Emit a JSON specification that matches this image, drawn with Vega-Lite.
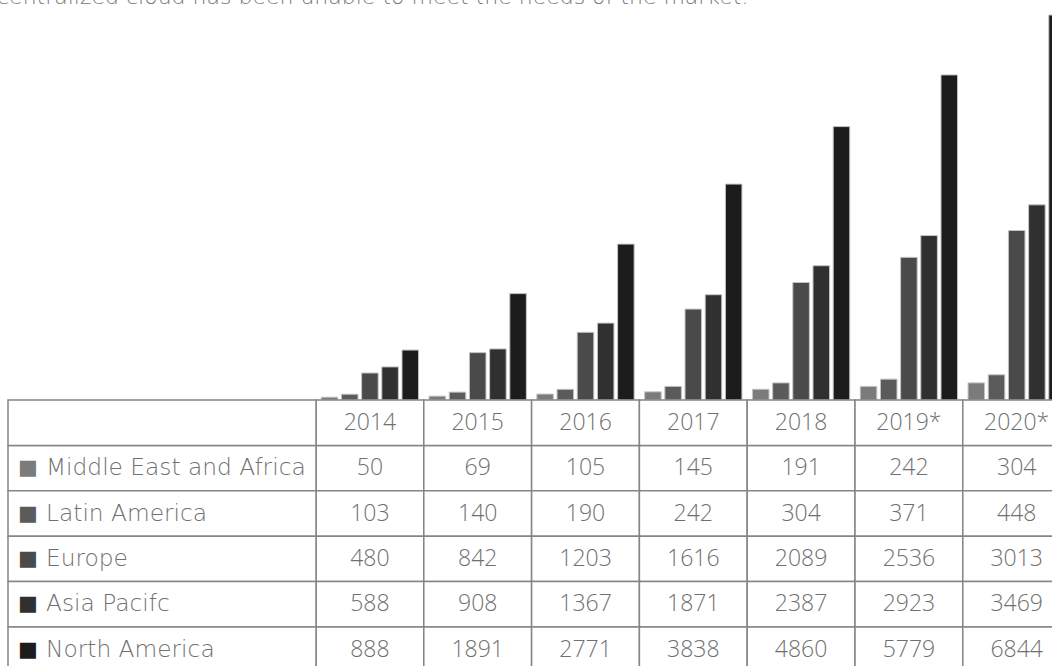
{
  "$schema": "https://vega.github.io/schema/vega-lite/v6.json",
  "autosize": {"type": "none"},
  "width": 1063,
  "height": 673,
  "padding": {"left": 8, "top": 0, "right": 0, "bottom": 0},
  "background": "white",
  "config": {"view": {"stroke": null}},
  "title": {
    "text": "centralized cloud has been unable to meet the needs of the market.",
    "anchor": "start",
    "frame": "group",
    "orient": "top",
    "offset": -26,
    "dx": -11,
    "baseline": "alphabetic",
    "font": "DejaVu Sans",
    "fontWeight": 200,
    "fontSize": 22,
    "color": "#777777"
  },
  "datasets": {
    "v": [
      {"region": "Middle East and Africa", "year": "2014", "value": 50},
      {"region": "Middle East and Africa", "year": "2015", "value": 69},
      {"region": "Middle East and Africa", "year": "2016", "value": 105},
      {"region": "Middle East and Africa", "year": "2017", "value": 145},
      {"region": "Middle East and Africa", "year": "2018", "value": 191},
      {"region": "Middle East and Africa", "year": "2019*", "value": 242},
      {"region": "Middle East and Africa", "year": "2020*", "value": 304},
      {"region": "Latin America", "year": "2014", "value": 103},
      {"region": "Latin America", "year": "2015", "value": 140},
      {"region": "Latin America", "year": "2016", "value": 190},
      {"region": "Latin America", "year": "2017", "value": 242},
      {"region": "Latin America", "year": "2018", "value": 304},
      {"region": "Latin America", "year": "2019*", "value": 371},
      {"region": "Latin America", "year": "2020*", "value": 448},
      {"region": "Europe", "year": "2014", "value": 480},
      {"region": "Europe", "year": "2015", "value": 842},
      {"region": "Europe", "year": "2016", "value": 1203},
      {"region": "Europe", "year": "2017", "value": 1616},
      {"region": "Europe", "year": "2018", "value": 2089},
      {"region": "Europe", "year": "2019*", "value": 2536},
      {"region": "Europe", "year": "2020*", "value": 3013},
      {"region": "Asia Pacifc", "year": "2014", "value": 588},
      {"region": "Asia Pacifc", "year": "2015", "value": 908},
      {"region": "Asia Pacifc", "year": "2016", "value": 1367},
      {"region": "Asia Pacifc", "year": "2017", "value": 1871},
      {"region": "Asia Pacifc", "year": "2018", "value": 2387},
      {"region": "Asia Pacifc", "year": "2019*", "value": 2923},
      {"region": "Asia Pacifc", "year": "2020*", "value": 3469},
      {"region": "North America", "year": "2014", "value": 888},
      {"region": "North America", "year": "2015", "value": 1891},
      {"region": "North America", "year": "2016", "value": 2771},
      {"region": "North America", "year": "2017", "value": 3838},
      {"region": "North America", "year": "2018", "value": 4860},
      {"region": "North America", "year": "2019*", "value": 5779},
      {"region": "North America", "year": "2020*", "value": 6844}
    ]
  },
  "data": {"name": "v"},
  "resolve": {"scale": {"x": "independent", "y": "independent", "xOffset": "independent", "color": "independent"}},
  "layer": [
    {
      "mark": {"type": "bar", "stroke": "#c4c4c4", "strokeWidth": 1},
      "encoding": {
        "x": {"field": "year", "type": "nominal", "axis": null,
              "scale": {"domain": ["2014","2015","2016","2017","2018","2019*","2020*"], "range": [308, 1062.6], "paddingInner": 0, "paddingOuter": 0}},
        "xOffset": {"field": "region", "type": "nominal",
              "scale": {"domain": ["Middle East and Africa","Latin America","Europe","Asia Pacifc","North America"], "paddingInner": 0.18, "paddingOuter": 0.26}},
        "y": {"field": "value", "type": "quantitative", "axis": null,
              "scale": {"domain": [0, 6844], "range": [400, 15], "nice": false, "zero": true}},
        "color": {"field": "region", "type": "nominal", "legend": null,
              "scale": {"domain": ["Middle East and Africa","Latin America","Europe","Asia Pacifc","North America"], "range": ["#7b7b7b","#5b5b5b","#4a4a4a","#2f302f","#1c1c1c"]}}
      }
    },
    {
      "mark": {"type": "rect", "fill": "white", "stroke": "#858585", "strokeWidth": 1.5},
      "encoding": {
        "x": {"field": "year", "type": "nominal", "axis": null,
              "scale": {"domain": ["2014","2015","2016","2017","2018","2019*","2020*"], "range": [308, 1062.6], "paddingInner": 0, "paddingOuter": 0}},
        "y": {"field": "region", "type": "nominal", "axis": null,
              "scale": {"domain": ["hdr","Middle East and Africa","Latin America","Europe","Asia Pacifc","North America"], "range": [400, 672.4], "paddingInner": 0, "paddingOuter": 0}}
      }
    },
    {
      "transform": [{"filter": "datum.region === 'North America'"}],
      "mark": {"type": "rect", "fill": "white", "stroke": "#858585", "strokeWidth": 1.5},
      "encoding": {
        "x": {"field": "year", "type": "nominal", "axis": null,
              "scale": {"domain": ["2014","2015","2016","2017","2018","2019*","2020*"], "range": [308, 1062.6], "paddingInner": 0, "paddingOuter": 0}},
        "y": {"datum": "hdr", "type": "nominal", "axis": null,
              "scale": {"domain": ["hdr","Middle East and Africa","Latin America","Europe","Asia Pacifc","North America"], "range": [400, 672.4], "paddingInner": 0, "paddingOuter": 0}}
      }
    },
    {
      "transform": [{"filter": "datum.year === '2014'"}],
      "mark": {"type": "rect", "fill": "white", "stroke": "#858585", "strokeWidth": 1.5},
      "encoding": {
        "x": {"datum": "lab", "type": "nominal", "axis": null,
              "scale": {"domain": ["lab"], "range": [0, 308], "paddingInner": 0, "paddingOuter": 0}},
        "y": {"field": "region", "type": "nominal", "axis": null,
              "scale": {"domain": ["hdr","Middle East and Africa","Latin America","Europe","Asia Pacifc","North America"], "range": [400, 672.4], "paddingInner": 0, "paddingOuter": 0}}
      }
    },
    {
      "transform": [{"filter": "datum.year === '2014' && datum.region === 'North America'"}],
      "mark": {"type": "rect", "fill": "white", "stroke": "#858585", "strokeWidth": 1.5},
      "encoding": {
        "x": {"datum": "lab", "type": "nominal", "axis": null,
              "scale": {"domain": ["lab"], "range": [0, 308], "paddingInner": 0, "paddingOuter": 0}},
        "y": {"datum": "hdr", "type": "nominal", "axis": null,
              "scale": {"domain": ["hdr","Middle East and Africa","Latin America","Europe","Asia Pacifc","North America"], "range": [400, 672.4], "paddingInner": 0, "paddingOuter": 0}}
      }
    },
    {
      "mark": {"type": "text", "font": "Open Sans", "fontWeight": 300, "fontSize": 23, "color": "#707070", "baseline": "middle", "align": "center"},
      "encoding": {
        "x": {"field": "year", "type": "nominal", "axis": null,
              "scale": {"domain": ["2014","2015","2016","2017","2018","2019*","2020*"], "range": [308, 1062.6], "paddingInner": 0, "paddingOuter": 0}},
        "y": {"field": "region", "type": "nominal", "axis": null,
              "scale": {"domain": ["hdr","Middle East and Africa","Latin America","Europe","Asia Pacifc","North America"], "range": [400, 672.4], "paddingInner": 0, "paddingOuter": 0}},
        "text": {"field": "value", "type": "quantitative", "format": "d"}
      }
    },
    {
      "transform": [{"filter": "datum.region === 'North America'"}],
      "mark": {"type": "text", "font": "Open Sans", "fontWeight": 300, "fontSize": 23, "color": "#707070", "baseline": "middle", "align": "center"},
      "encoding": {
        "x": {"field": "year", "type": "nominal", "axis": null,
              "scale": {"domain": ["2014","2015","2016","2017","2018","2019*","2020*"], "range": [308, 1062.6], "paddingInner": 0, "paddingOuter": 0}},
        "y": {"datum": "hdr", "type": "nominal", "axis": null,
              "scale": {"domain": ["hdr","Middle East and Africa","Latin America","Europe","Asia Pacifc","North America"], "range": [400, 672.4], "paddingInner": 0, "paddingOuter": 0}},
        "text": {"field": "year", "type": "nominal"}
      }
    },
    {
      "transform": [{"filter": "datum.year === '2014'"}],
      "mark": {"type": "text", "font": "DejaVu Sans", "fontSize": 21, "baseline": "middle", "align": "left", "dx": -144},
      "encoding": {
        "x": {"datum": "lab", "type": "nominal", "axis": null,
              "scale": {"domain": ["lab"], "range": [0, 308], "paddingInner": 0, "paddingOuter": 0}},
        "y": {"field": "region", "type": "nominal", "axis": null,
              "scale": {"domain": ["hdr","Middle East and Africa","Latin America","Europe","Asia Pacifc","North America"], "range": [400, 672.4], "paddingInner": 0, "paddingOuter": 0}},
        "text": {"value": "■"},
        "color": {"field": "region", "type": "nominal", "legend": null,
              "scale": {"domain": ["Middle East and Africa","Latin America","Europe","Asia Pacifc","North America"], "range": ["#7b7b7b","#5b5b5b","#4a4a4a","#2f302f","#1c1c1c"]}}
      }
    },
    {
      "transform": [{"filter": "datum.year === '2014'"}],
      "mark": {"type": "text", "font": "DejaVu Sans", "fontWeight": 200, "fontSize": 23.3, "color": "#707070", "baseline": "middle", "align": "left", "dx": -116},
      "encoding": {
        "x": {"datum": "lab", "type": "nominal", "axis": null,
              "scale": {"domain": ["lab"], "range": [0, 308], "paddingInner": 0, "paddingOuter": 0}},
        "y": {"field": "region", "type": "nominal", "axis": null,
              "scale": {"domain": ["hdr","Middle East and Africa","Latin America","Europe","Asia Pacifc","North America"], "range": [400, 672.4], "paddingInner": 0, "paddingOuter": 0}},
        "text": {"field": "region", "type": "nominal"}
      }
    }
  ]
}
